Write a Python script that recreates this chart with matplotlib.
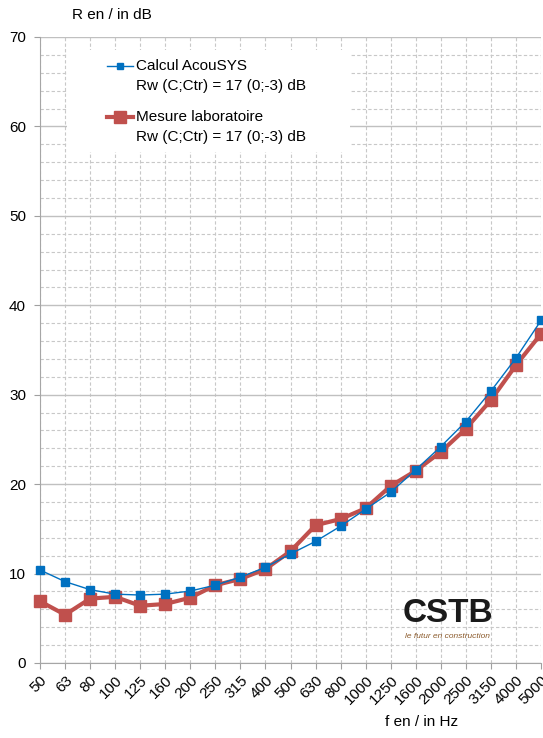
import numpy as np
import matplotlib
matplotlib.use('Agg')
import matplotlib.pyplot as plt
from matplotlib.lines import Line2D
from matplotlib.patches import Rectangle

plt.rcParams['font.family'] = ['Liberation Sans', 'DejaVu Sans']

# DATA
freqs = ['50', '63', '80', '100', '125', '160', '200', '250', '315', '400', '500',
         '630', '800', '1000', '1250', '1600', '2000', '2500', '3150', '4000', '5000']
calcul = [10.4, 9.1, 8.2, 7.7, 7.6, 7.7, 8.05, 8.7, 9.6, 10.7, 12.2,
          13.6, 15.3, 17.2, 19.1, 21.6, 24.2, 27.0, 30.4, 34.1, 38.3]
mesure = [6.9, 5.4, 7.2, 7.4, 6.4, 6.6, 7.3, 8.7, 9.4, 10.5, 12.5,
          15.4, 16.1, 17.3, 19.8, 21.5, 23.6, 26.2, 29.4, 33.3, 36.8]
label_calcul = 'Calcul AcouSYS'
label_mesure = 'Mesure laboratoire'
rw_text = 'Rw (C;Ctr) = 17 (0;-3) dB'

W, H = 543, 738
fig = plt.figure(figsize=(W/100, H/100), dpi=100)
ax = fig.add_axes([40/W, 1-663/H, 501/W, 626/H])

def px(x, y):
    return (x/W, 1-y/H)

x = np.arange(len(freqs))
blue = '#0070C0'
red = '#C0504D'

ax.plot(x, calcul, color=blue, lw=1, marker='s', ms=6, zorder=4, clip_on=False)
ax.plot(x, mesure, color=red, lw=3, marker='s', ms=9, zorder=3, clip_on=False)

ax.set_xlim(0, 20)
ax.set_ylim(0, 70)
ax.set_yticks(np.arange(0, 71, 10))
ax.set_yticks(np.arange(0, 71, 2), minor=True)
ax.set_xticks(x)
ax.set_xticklabels(freqs, rotation=45, ha='right', rotation_mode='anchor', fontsize=11)
ax.tick_params(axis='y', labelsize=11, length=4, color='#a0a0a0', pad=6)
ax.tick_params(axis='y', which='minor', length=0)
ax.tick_params(axis='x', length=4, color='#a0a0a0', pad=3)

# GRID
ax.grid(axis='y', which='major', color='#c0c0c0', lw=1, ls='-', zorder=0)
ax.grid(axis='y', which='minor', color='#c8c8c8', lw=0.8, ls=(0, (3, 2)), zorder=0)
ax.grid(axis='x', which='major', color='#c8c8c8', lw=0.8, ls=(0, (3, 2)), zorder=0)
ax.set_axisbelow(True)
for s in ['top', 'right']:
    ax.spines[s].set_visible(False)
ax.spines['left'].set_color('#a6a6a6')
ax.spines['bottom'].set_color('#a6a6a6')

# legend box (manual, handle aligned with first line)
fig.patches.append(Rectangle(px(67, 152), 283/W, 102/H, transform=fig.transFigure,
                             facecolor='white', edgecolor='none', zorder=2))
for yy, col, lw, ms, lab in [(66, blue, 1, 5, label_calcul), (117, red, 3, 9, label_mesure)]:
    x0, y0 = px(107, yy)
    x1, _ = px(133, yy)
    xm, _ = px(120, yy)
    fig.add_artist(Line2D([x0, x1], [y0, y0], color=col, lw=lw, transform=fig.transFigure, zorder=3))
    fig.add_artist(Line2D([xm], [y0], color=col, marker='s', ms=ms, lw=0, transform=fig.transFigure, zorder=3))
    fig.text(*px(136, yy), lab, fontsize=11, va='center', ha='left', zorder=4)
    fig.text(*px(136, yy + 20), rw_text, fontsize=11, va='center', ha='left', zorder=4)

# axis titles
fig.text(*px(72, 15), 'R en / in dB', fontsize=11, va='center', ha='left')
fig.text(*px(385, 722), 'f en / in Hz', fontsize=11, va='center', ha='left')

# logo
fig.text(*px(403, 614), 'CSTB', fontsize=24, fontweight='bold', color='#1a1a1a',
         va='center', ha='left')
fig.text(*px(405, 637), 'le futur en construction', fontsize=6, style='italic',
         color='#8B5A2B', va='center', ha='left')

fig.savefig('out.png', dpi=100)
